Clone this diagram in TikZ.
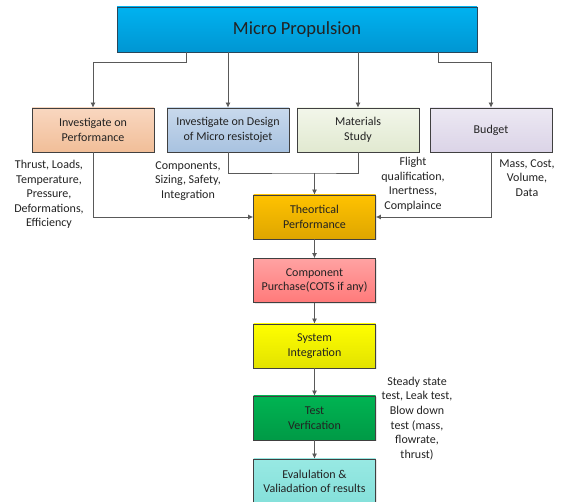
\documentclass[tikz,border=0pt]{standalone}
\usepackage{fontspec}
\setmainfont{Carlito}
\usetikzlibrary{arrows.meta, shadows}
\definecolor{propblue}{RGB}{0,178,240}
\definecolor{propbluedark}{RGB}{0,150,210}
\definecolor{topedge}{RGB}{40,70,90}
\definecolor{perftop}{RGB}{249,215,192}
\definecolor{perfbot}{RGB}{241,190,152}
\definecolor{designtop}{RGB}{200,217,236}
\definecolor{designbot}{RGB}{168,194,224}
\definecolor{mattop}{RGB}{242,246,234}
\definecolor{matbot}{RGB}{225,233,208}
\definecolor{budtop}{RGB}{236,232,243}
\definecolor{budbot}{RGB}{219,212,231}
\definecolor{theotop}{RGB}{255,194,0}
\definecolor{theobot}{RGB}{222,166,0}
\definecolor{comptop}{RGB}{255,162,162}
\definecolor{compbot}{RGB}{255,122,122}
\definecolor{systop}{RGB}{255,255,0}
\definecolor{sysbot}{RGB}{226,226,0}
\definecolor{testtop}{RGB}{0,180,82}
\definecolor{testbot}{RGB}{0,154,70}
\definecolor{evaltop}{RGB}{152,233,227}
\definecolor{evalbot}{RGB}{132,224,218}
\definecolor{linegrey}{RGB}{89,89,89}
\definecolor{edgegrey}{RGB}{64,64,64}
\definecolor{textgrey}{RGB}{34,34,34}

\begin{document}
\begin{tikzpicture}[x=1pt, y=-1pt,
  box/.style={draw=edgegrey, line width=0.8pt, minimum width=122pt, minimum height=44pt,
    align=center, inner sep=1pt, text=textgrey, font=\fontsize{12}{14.6}\selectfont,
    drop shadow={shadow xshift=1pt, shadow yshift=-1.2pt, opacity=0.2}},
  note/.style={align=center, inner sep=0pt, text=textgrey, font=\fontsize{12}{14.6}\selectfont},
  link/.style={draw=linegrey, line width=0.8pt, -{Latex[length=5pt,width=5pt]}},
  joint/.style={draw=linegrey, line width=0.8pt}]
\path[use as bounding box, clip] (0,0) rectangle (563,502);

%main box
\node[box, draw=topedge, top color=propblue, bottom color=propbluedark,
  minimum width=360pt, minimum height=45pt, font=\fontsize{18.5}{22}\selectfont]
  (micro) at (297,29.5) {Micro Propulsion};

%second row
\node[box, top color=perftop, bottom color=perfbot] (perf) at (93,130) {Investigate on\\Performance};
\node[box, top color=designtop, bottom color=designbot] (design) at (228,130) {Investigate on Design\\of Micro resistojet};
\node[box, top color=mattop, bottom color=matbot] (materials) at (358,130) {Materials\\Study};
\node[box, top color=budtop, bottom color=budbot] (budget) at (491,130) {Budget};

%the column
\node[box, top color=theotop, bottom color=theobot] (theory) at (314.5,217) {Theortical\\Performance};
\node[box, top color=comptop, bottom color=compbot] (purchase) at (314.5,280.5) {Component\\Purchase(COTS if any)};
\node[box, top color=systop, bottom color=sysbot] (integration) at (314.5,346) {System\\Integration};
\node[box, top color=testtop, bottom color=testbot] (testing) at (314.5,418) {Test\\Verfication};
\node[box, top color=evaltop, bottom color=evalbot, minimum height=45pt] (evaluation) at (314.5,481.5) {Evalulation \&\\Valiadation of results};

%side notes
\node[note] (perfnote) at (49,194.5) {Thrust, Loads,\\Temperature,\\Pressure,\\Deformations,\\Efficiency};
\node[note] (designnote) at (188,181) {Components,\\Sizing, Safety,\\Integration};
\node[note] (matnote) at (413,184.5) {Flight\\qualification,\\Inertness,\\Complaince};
\node[note] (budnote) at (527,178) {Mass, Cost,\\Volume,\\Data};
\node[note] (testnote) at (417,418.5) {Steady state\\test, Leak test,\\Blow down\\test (mass,\\flowrate,\\thrust)};

%from the main box
\draw[link] ([xshift=-111pt]micro.south) -- ++(0,10) -| (perf);
\draw[link] (micro.south -| design) -- (design);
\draw[link] (micro.south -| materials) -- (materials);
\draw[link] ([xshift=141pt]micro.south) -- ++(0,10) -| (budget);

%into the theory box
\coordinate (merge) at (314.5,173);
\draw[joint] (design) |- (merge) -| (materials);
\draw[link] (merge) -- (theory);
\draw[link] (perf) |- (theory);
\draw[link] (budget) |- (theory);

%down the column
\draw[link] (theory) -- (purchase);
\draw[link] (purchase) -- (integration);
\draw[link] (integration) -- (testing);
\draw[link] (testing) -- (evaluation);
\end{tikzpicture}
\end{document}
